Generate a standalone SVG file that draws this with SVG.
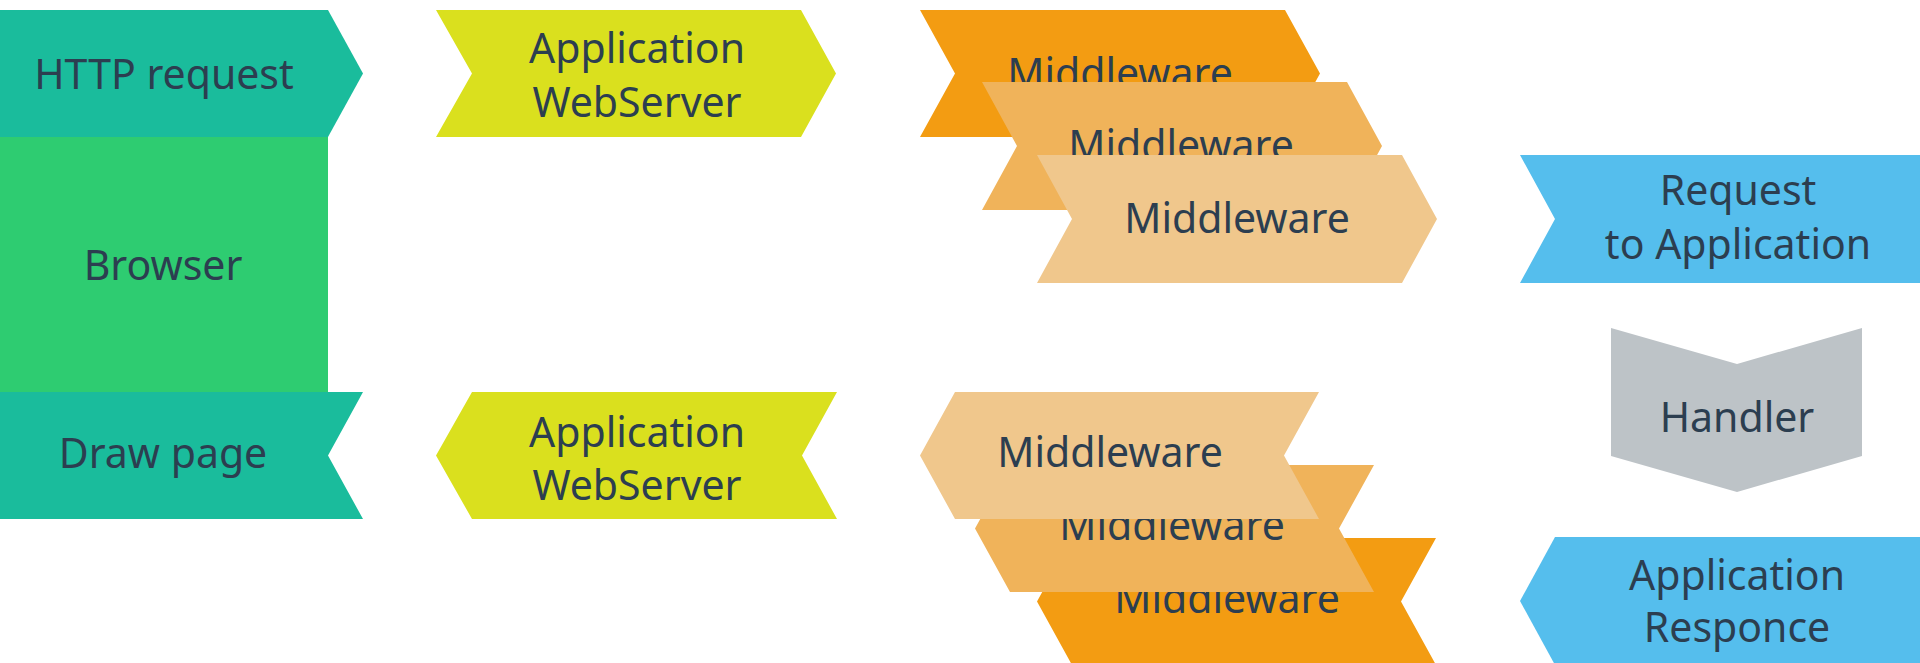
<svg xmlns="http://www.w3.org/2000/svg" width="1920" height="663" viewBox="0 0 1920 663">
<style>
  text { font-family: "Noto Sans", "Open Sans", sans-serif; font-size: 41px; fill: #2c3e50; text-anchor: middle; }
  .teal { fill: #1abc9c; }
  .green { fill: #2ecc71; }
  .yellow { fill: #dae01e; }
  .or1 { fill: #f39c12; }
  .or2 { fill: #f0b35a; }
  .or3 { fill: #f0c78c; }
  .blue { fill: #55beed; }
  .gray { fill: #bdc3c7; }
</style>
<rect width="1920" height="663" fill="#ffffff"/>
<g id="connectors"/>
<g id="browser">
  <rect class="green" x="0" y="137" width="328" height="255"/>
  <text x="163" y="280">Browser</text>
</g>
<g id="http-request">
  <path class="teal" d="M0,10 H328 L363,73.5 L328,137 H0 Z"/>
  <text x="164" y="89">HTTP request</text>
</g>
<g id="draw-page">
  <path class="teal" d="M0,392 H363 L328,455.5 L363,519 H0 Z"/>
  <text x="163" y="468">Draw page</text>
</g>
<g id="webserver-in">
  <path class="yellow" d="M436,10 H801 L836,73.5 L801,137 H436 L472,73.5 Z"/>
  <text x="637" y="63">Application</text>
  <text x="637" y="117">WebServer</text>
</g>
<g id="webserver-out">
  <path class="yellow" d="M472,392 H837 L802,455.5 L837,519 H472 L436,455.5 Z"/>
  <text x="637" y="447">Application</text>
  <text x="637" y="500">WebServer</text>
</g>
<g id="middleware-in-1">
  <path class="or1" d="M920,10 H1285 L1320,73.5 L1285,137 H920 L955,73.5 Z"/>
  <text x="1120" y="88">Middleware</text>
</g>
<g id="middleware-in-2">
  <path class="or2" d="M982,82 H1347 L1382,146 L1347,210 H982 L1017,146 Z"/>
  <text x="1181" y="160">Middleware</text>
</g>
<g id="middleware-in-3">
  <path class="or3" d="M1037,155 H1402 L1437,219 L1402,283 H1037 L1072,219 Z"/>
  <text x="1237" y="233">Middleware</text>
</g>
<g id="request-to-application">
  <path class="blue" d="M1520,155 H1920 V283 H1520 L1555,219 Z"/>
  <text x="1738" y="205">Request</text>
  <text x="1738" y="259">to Application</text>
</g>
<g id="handler">
  <path class="gray" d="M1611,328 L1737,364 L1862,328 V456 L1737,492 L1611,456 Z"/>
  <text x="1737" y="432">Handler</text>
</g>
<g id="middleware-out-3">
  <path class="or1" d="M1072,538 H1436 L1401,601.5 L1436,665 H1072 L1037,601.5 Z"/>
  <text x="1227" y="613">Middleware</text>
</g>
<g id="middleware-out-2">
  <path class="or2" d="M1010,465 H1374 L1339,528.5 L1374,592 H1010 L975,528.5 Z"/>
  <text x="1172" y="540">Middleware</text>
</g>
<g id="middleware-out-1">
  <path class="or3" d="M955,392 H1319 L1284,455.5 L1319,519 H955 L920,455.5 Z"/>
  <text x="1110" y="467">Middleware</text>
</g>
<g id="application-responce">
  <path class="blue" d="M1555,537 H1920 V665 H1555 L1520,601 Z"/>
  <text x="1737" y="590">Application</text>
  <text x="1737" y="642">Responce</text>
</g>
</svg>
